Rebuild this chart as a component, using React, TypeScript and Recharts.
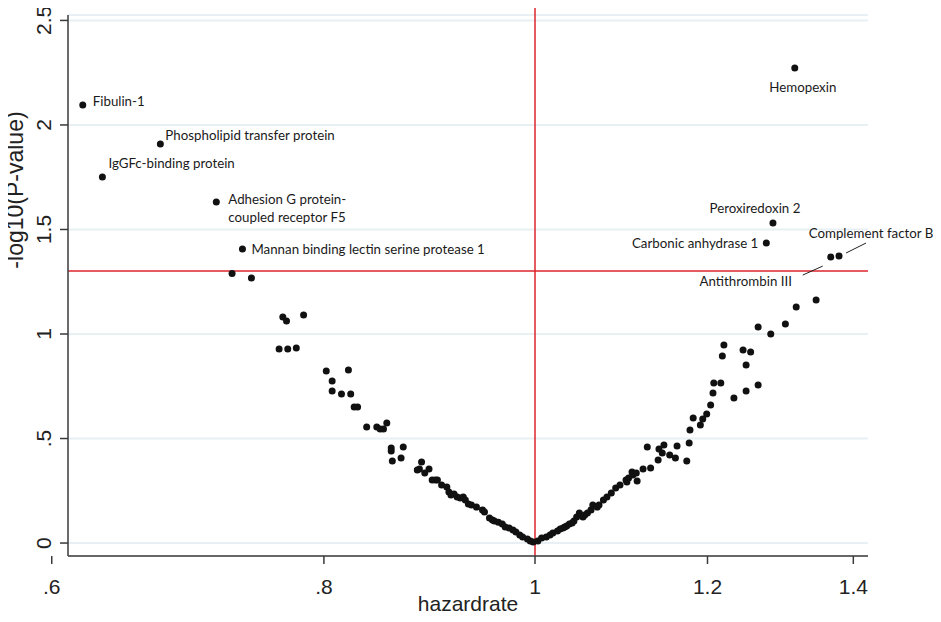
import React from "react";
import {
  ScatterChart,
  Scatter,
  XAxis,
  YAxis,
  CartesianGrid,
  ReferenceLine,
  Label,
} from "recharts";

// labelled proteins
const PROTEIN_NAMES = [
  "Fibulin-1",
  "Phospholipid transfer protein",
  "IgGFc-binding protein",
  "Adhesion G protein-coupled receptor F5",
  "Mannan binding lectin serine protease 1",
  "Hemopexin",
  "Peroxiredoxin 2",
  "Carbonic anhydrase 1",
  "Complement factor B",
  "Antithrombin III",
];
const PROTEIN_HR = [0.62, 0.673, 0.633, 0.714, 0.734, 1.316, 1.286, 1.277, 1.379, 1.367];
const PROTEIN_LOGP = [2.096, 1.909, 1.751, 1.632, 1.407, 2.273, 1.531, 1.435, 1.373, 1.368];

// unlabelled proteins, hazardrate < 1
const HR_LOWER = [
  0.726, 0.741, 0.766, 0.769, 0.783, 0.763, 0.77, 0.777, 0.802, 0.821, 0.807, 0.807,
  0.815, 0.823, 0.826, 0.829, 0.837, 0.846, 0.849, 0.852, 0.855, 0.859, 0.859, 0.87,
  0.86, 0.868, 0.887, 0.885, 0.883, 0.894, 0.89, 0.897, 0.9, 0.902, 0.906, 0.911,
  0.913, 0.915, 0.918, 0.921, 0.924, 0.927, 0.929, 0.932, 0.935, 0.94, 0.946, 0.948,
  0.953, 0.956, 0.958, 0.962, 0.966, 0.969, 0.973, 0.977, 0.98, 0.984, 0.987, 0.992,
  0.995, 0.998,
];
const LOGP_LOWER = [
  1.29, 1.268, 1.081, 1.062, 1.091, 0.928, 0.928, 0.933, 0.823, 0.828, 0.775, 0.727,
  0.713, 0.713, 0.651, 0.651, 0.555, 0.555, 0.545, 0.545, 0.574, 0.455, 0.44, 0.459,
  0.392, 0.407, 0.388, 0.354, 0.349, 0.354, 0.335, 0.301, 0.301, 0.301, 0.278, 0.268,
  0.244, 0.23, 0.234, 0.22, 0.215, 0.22, 0.206, 0.187, 0.182, 0.172, 0.158, 0.148,
  0.12, 0.11, 0.105, 0.1, 0.091, 0.077, 0.072, 0.062, 0.053, 0.038, 0.029, 0.019,
  0.01, 0.005,
];

// unlabelled proteins, hazardrate > 1
const HR_UPPER = [
  1.003, 1.007, 1.012, 1.016, 1.019, 1.024, 1.027, 1.03, 1.032, 1.034, 1.037, 1.04,
  1.042, 1.045, 1.048, 1.052, 1.054, 1.057, 1.061, 1.063, 1.068, 1.07, 1.075, 1.079,
  1.084, 1.089, 1.094, 1.101, 1.102, 1.104, 1.108, 1.109, 1.113, 1.114, 1.121, 1.13,
  1.126, 1.139, 1.14, 1.144, 1.146, 1.153, 1.16, 1.162, 1.174, 1.177, 1.178, 1.182,
  1.191, 1.194, 1.199, 1.204, 1.207, 1.208, 1.217, 1.219, 1.221, 1.234, 1.25, 1.25,
  1.246, 1.256, 1.266, 1.266, 1.283, 1.303, 1.318, 1.346,
];
const LOGP_UPPER = [
  0.01, 0.024, 0.029, 0.038, 0.048, 0.057, 0.067, 0.072, 0.077, 0.081, 0.091, 0.096,
  0.105, 0.124, 0.144, 0.124, 0.134, 0.144, 0.158, 0.182, 0.172, 0.182, 0.206, 0.22,
  0.239, 0.263, 0.278, 0.301, 0.292, 0.311, 0.34, 0.325, 0.335, 0.297, 0.354, 0.359,
  0.459, 0.397, 0.45, 0.431, 0.469, 0.421, 0.407, 0.464, 0.392, 0.478, 0.541, 0.598,
  0.565, 0.593, 0.617, 0.66, 0.718, 0.766, 0.766, 0.895, 0.947, 0.694, 0.727, 0.852,
  0.923, 0.914, 0.756, 1.033, 1.0, 1.048, 1.129, 1.163,
];

const X_TICKS = [0.6, 0.8, 1, 1.2, 1.4];
const Y_TICKS = [0, 0.5, 1, 1.5, 2, 2.5];
const X_DOMAIN = [0.6104, 1.4219];
const Y_DOMAIN = [-0.062, 2.526];
const P_THRESHOLD = 1.301; // -log10(0.05)

// where each protein name sits relative to its dot
const LABEL_POS: Record<
  string,
  { dx: number; dy: number; anchor: string; lines?: string[]; leader?: number[] }
> = {
  "Fibulin-1": { dx: 10, dy: -4, anchor: "start" },
  "Phospholipid transfer protein": { dx: 5, dy: -9, anchor: "start" },
  "IgGFc-binding protein": { dx: 6, dy: -14, anchor: "start" },
  "Adhesion G protein-coupled receptor F5": {
    dx: 12,
    dy: -3,
    anchor: "start",
    lines: ["Adhesion G protein-", "coupled receptor F5"],
  },
  "Mannan binding lectin serine protease 1": { dx: 9, dy: 0, anchor: "start" },
  Hemopexin: { dx: 8, dy: 19, anchor: "middle" },
  "Peroxiredoxin 2": { dx: -18, dy: -15, anchor: "middle" },
  "Carbonic anhydrase 1": { dx: -8, dy: 0, anchor: "end" },
  "Complement factor B": { dx: 32, dy: -23, anchor: "middle", leader: [7, -3, 27, -13] },
  "Antithrombin III": { dx: -85, dy: 24, anchor: "middle", leader: [-28, 18, -8, 9] },
};

const labelled = PROTEIN_NAMES.map((name, i) => ({ name, hr: PROTEIN_HR[i], logp: PROTEIN_LOGP[i] }));
const others = [
  ...HR_LOWER.map((hr, i) => ({ hr, logp: LOGP_LOWER[i] })),
  ...HR_UPPER.map((hr, i) => ({ hr, logp: LOGP_UPPER[i] })),
];

const AXIS_FONT = "'Liberation Sans', Arial, sans-serif";
const LABEL_FONT = "Lato, 'Noto Sans', sans-serif";
const RED = "#dc242b";
const AXIS_COLOR = "#3a3a3a";

const fmtTick = (v: number) => (v < 1 && v > 0 ? String(v).replace(/^0/, "") : String(v));

const Dot = (props: any) => <circle cx={props.cx} cy={props.cy} r={3.5} fill="#111" />;

const LabelledDot = (props: any) => {
  const { cx, cy, payload } = props;
  const pos = LABEL_POS[payload.name];
  const lines = pos.lines || [payload.name];
  return (
    <g>
      <circle cx={cx} cy={cy} r={3.5} fill="#111" />
      {pos.leader && (
        <line
          x1={cx + pos.leader[0]}
          y1={cy + pos.leader[1]}
          x2={cx + pos.leader[2]}
          y2={cy + pos.leader[3]}
          stroke="#222"
          strokeWidth={1}
        />
      )}
      {lines.map((line, i) => (
        <text
          key={i}
          x={cx + pos.dx}
          y={cy + pos.dy + i * 18}
          textAnchor={pos.anchor as any}
          dominantBaseline="central"
          fontFamily={LABEL_FONT}
          fontSize={13.3}
          fill="#1a1a1a"
        >
          {line}
        </text>
      ))}
    </g>
  );
};

const XTick = (props: any) => (
  <text
    x={props.x}
    y={props.y + 30}
    textAnchor="middle"
    fontFamily={AXIS_FONT}
    fontSize={21}
    fill="#222"
  >
    {fmtTick(props.payload.value)}
  </text>
);

const YTick = (props: any) => {
  const tx = props.x - 9;
  return (
    <text
      x={tx}
      y={props.y}
      transform={`rotate(-90 ${tx} ${props.y})`}
      textAnchor="middle"
      fontFamily={AXIS_FONT}
      fontSize={21}
      fill="#222"
    >
      {fmtTick(props.payload.value)}
    </text>
  );
};

export default function App() {
  return (
    <div style={{ margin: -8, background: "#fff", width: 941, height: 622 }}>
      <ScatterChart
        width={941}
        height={622}
        margin={{ top: 15, right: 73, bottom: 16, left: 18 }}
      >
        <CartesianGrid vertical={false} stroke="#e8f0f3" strokeWidth={2} />
        <XAxis
          type="number"
          dataKey="hr"
          scale="log"
          domain={X_DOMAIN}
          ticks={X_TICKS}
          interval={0}
          height={50}
          tickSize={8}
          tickMargin={0}
          tick={<XTick />}
          tickLine={{ stroke: AXIS_COLOR, strokeWidth: 1.5 }}
          axisLine={{ stroke: AXIS_COLOR, strokeWidth: 1.5 }}
        >
          <Label
            content={() => (
              <text x={468} y={611} textAnchor="middle" fontFamily={AXIS_FONT} fontSize={21} fill="#222">
                hazardrate
              </text>
            )}
          />
        </XAxis>
        <YAxis
          type="number"
          dataKey="logp"
          domain={Y_DOMAIN}
          ticks={Y_TICKS}
          interval={0}
          width={50}
          tickSize={8}
          tickMargin={0}
          tick={<YTick />}
          tickLine={{ stroke: AXIS_COLOR, strokeWidth: 1.5 }}
          axisLine={{ stroke: AXIS_COLOR, strokeWidth: 1.5 }}
        >
          <Label
            content={() => (
              <text
                x={23}
                y={190}
                transform="rotate(-90 23 190)"
                textAnchor="middle"
                fontFamily={AXIS_FONT}
                fontSize={23}
                fill="#222"
              >
                -log10(P-value)
              </text>
            )}
          />
        </YAxis>
        <ReferenceLine y={P_THRESHOLD} stroke={RED} strokeWidth={1.5} />
        <ReferenceLine
          segment={[
            { x: 1, y: Y_DOMAIN[0] },
            { x: 1, y: 2.57 },
          ]}
          ifOverflow="visible"
          stroke={RED}
          strokeWidth={1.5}
        />
        <Scatter data={others} shape={<Dot />} isAnimationActive={false} />
        <Scatter data={labelled} shape={<LabelledDot />} isAnimationActive={false} />
      </ScatterChart>
    </div>
  );
}
